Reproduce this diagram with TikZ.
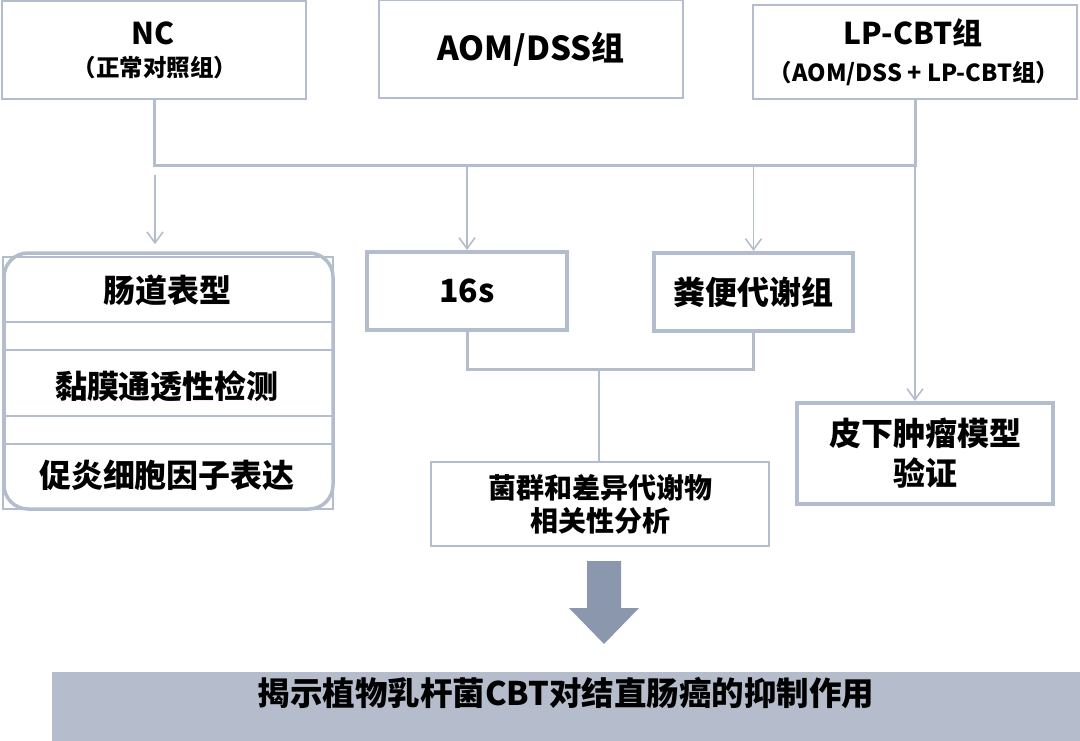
\documentclass[tikz,border=0pt]{standalone}
\usepackage{fontspec}
\setmainfont{Noto Sans CJK SC}
\usetikzlibrary{arrows.meta}

\definecolor{edgegray}{RGB}{180,189,205}
\definecolor{bandgray}{RGB}{181,189,204}
\definecolor{arrowgray}{RGB}{139,151,173}

\begin{document}
\begin{tikzpicture}[x=1pt,y=-1pt]
% Diagram style
\tikzset{
    groupbox/.style={draw=edgegray, line width=2pt, fill=white, inner sep=0pt, align=center},
    assaybox/.style={draw=edgegray, line width=4pt, fill=white, inner sep=0pt, align=center},
    link/.style={draw=edgegray, line width=3pt},
    flow/.style={draw=edgegray, line width=1.6pt, -{Straight Barb[length=11pt,width=16pt]}},
    rowline/.style={draw=edgegray, line width=1.2pt},
    title/.style={font=\bfseries\fontsize{30}{36}\selectfont},
    subtitle/.style={font=\bfseries\fontsize{23.5}{28}\selectfont},
    item/.style={font=\bfseries\fontsize{32}{40}\selectfont}
}
\useasboundingbox (0,0) rectangle (1080,741);
% Groups
\node[groupbox, minimum width=304pt, minimum height=98pt] (nc) at (154,50) {};
\node[title, anchor=base] (nctitle) at (153,45) {NC};
\node[subtitle, anchor=base] (ncsub) at (155,77) {（正常对照组）};
\node[groupbox, minimum width=304pt, minimum height=98pt, font=\bfseries\fontsize{33}{40}\selectfont] (aom) at (531,49) {AOM/DSS组};
\node[groupbox, minimum width=324pt, minimum height=94pt] (lp) at (915,52) {};
\node[title, anchor=base] (lptitle) at (913,45) {LP-CBT组};
\node[subtitle, anchor=base] (lpsub) at (914,82) {（AOM/DSS + LP-CBT组）};
% Assays
\node[draw=edgegray, line width=3.5pt, fill=white, rounded corners=24pt,
      minimum width=329pt, minimum height=256pt] (gut) at (168.5,381) {};
\draw[rowline] (3,257) rectangle (333,509);
\draw[rowline] (3,322) -- (333,322) (3,350) -- (333,350)
               (3,416) -- (333,416) (3,444) -- (333,444);
\node[item] (pheno) at (167,290) {肠道表型};
\node[item] (barrier) at (167,386) {黏膜通透性检测};
\node[item] (cytokine) at (167,475) {促炎细胞因子表达};
\node[assaybox, item, minimum width=200pt, minimum height=78pt] (s16) at (467,291) {16s};
\node[assaybox, item, minimum width=199pt, minimum height=78pt] (meta) at (753.5,292) {粪便代谢组};
\node[assaybox, item, minimum width=256pt, minimum height=101pt] (tumor) at (925,453.5) {皮下肿瘤模型\\验证};
\node[groupbox, line width=1.5pt, minimum width=338pt, minimum height=84pt,
      font=\bfseries\fontsize{28}{33}\selectfont] (corr) at (600,504) {菌群和差异代谢物\\相关性分析};
% Connection
\coordinate (bus) at (915,166);
\coordinate (ncdrop) at (155,175);
\coordinate (merge) at (599,369);
\draw[link] (nc.south) |- (bus) -- (lp.south);
\draw[flow, shorten >=7pt] (ncdrop) -- (ncdrop |- gut.north);
\draw[flow] (s16.north |- bus) -- (s16.north);
\draw[flow] (meta.north |- bus) -- (meta.north);
\draw[flow] (bus) -- (bus |- tumor.north);
\draw[link] (s16.south) |- (merge) -| (meta.south);
\draw[link, line width=2.5pt] (merge) -- (merge |- corr.north);
% Result
\fill[arrowgray] (587,561) -- (621,561) -- (621,608) -- (639,608) -- (604,644) -- (569,608) -- (587,608) -- cycle;
\fill[bandgray] (52,672) rectangle (1080,741);
\node[item, font=\bfseries\fontsize{32.5}{40}\selectfont] (summary) at (566,693) {揭示植物乳杆菌CBT对结直肠癌的抑制作用};
\end{tikzpicture}
\end{document}
